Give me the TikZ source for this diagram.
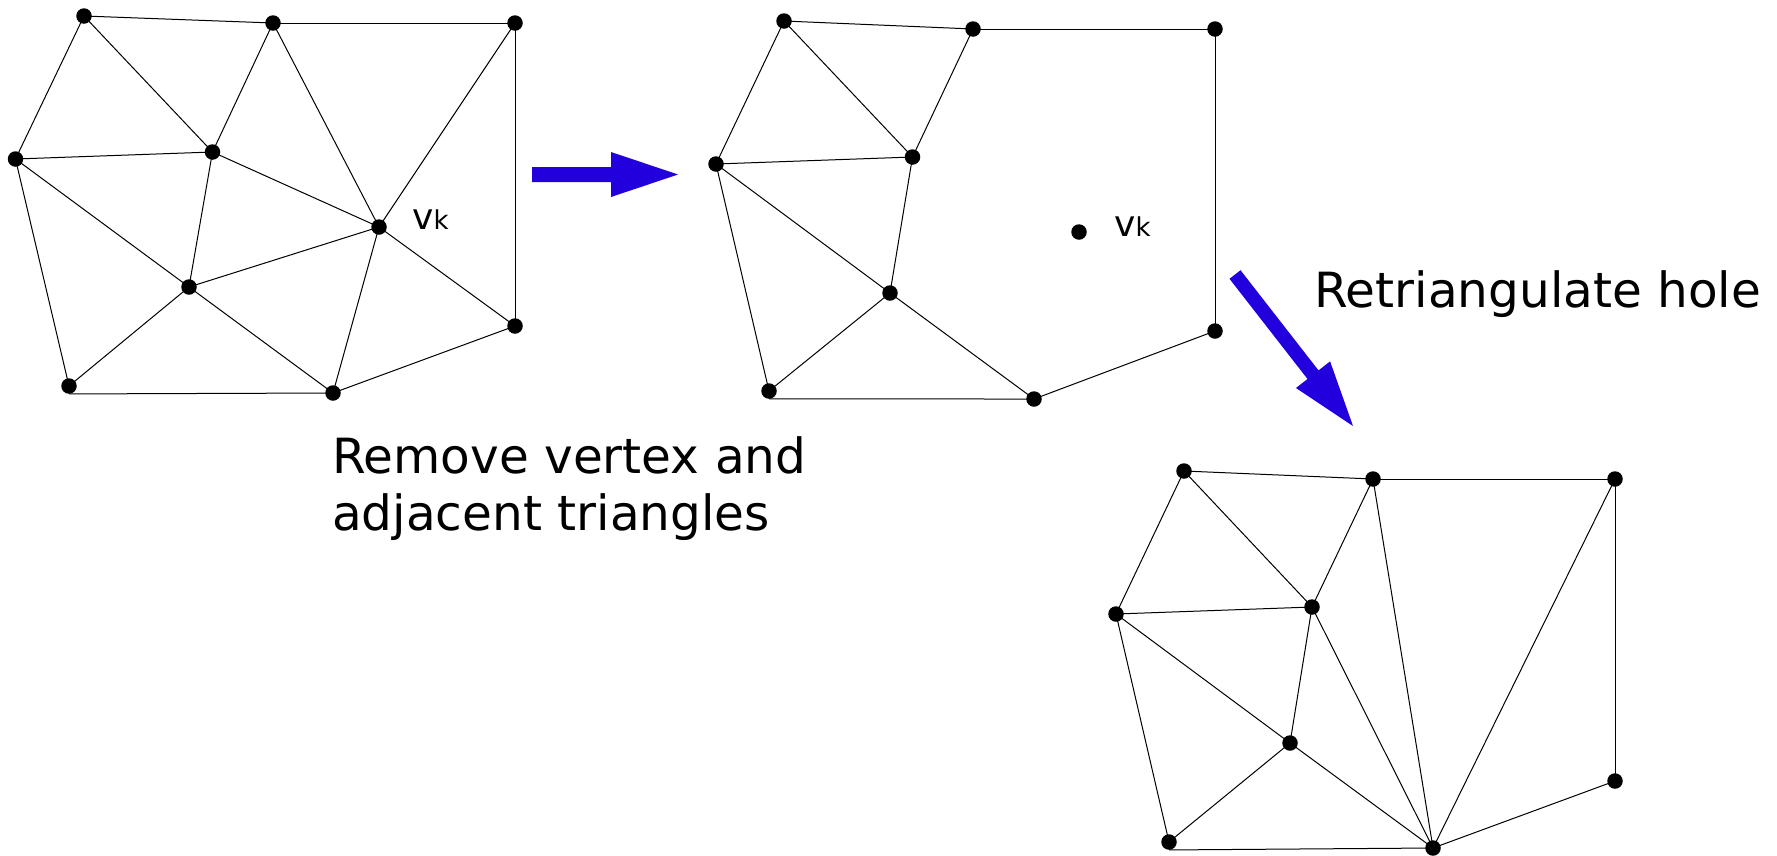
\documentclass[tikz,border=0pt]{standalone}
\usepackage{fontspec}
\setmainfont{DejaVu Sans}
\usetikzlibrary{shapes.geometric}
\definecolor{arrowblue}{RGB}{34,0,221}
\tikzset{
  dot/.style={circle,fill=black,inner sep=0pt,minimum size=15.5pt},
  edge/.style={draw=black,line width=1pt},
  bigtext/.style={inner sep=0pt,anchor=base west,font=\fontsize{48.5}{57}\selectfont},
  vklabel/.style={inner sep=0pt,anchor=base west},
  bluearrow/.style={fill=arrowblue}
}
\newcommand{\vklab}{{\fontsize{36}{40}\selectfont v}{\fontsize{26}{30}\selectfont k}}
\begin{document}
\begin{tikzpicture}[x=1pt,y=-1pt]
\useasboundingbox (0,0) rectangle (1777,855);
% ---------- graph 1 ----------
\node[dot] (a1) at (84,16) {};
\node[dot] (b1) at (273,23) {};
\node[dot] (c1) at (515,23) {};
\node[dot] (d1) at (15.5,159) {};
\node[dot] (e1) at (212.5,152) {};
\node[dot] (v1) at (379,227) {};
\node[dot] (f1) at (189,287) {};
\node[dot] (g1) at (69,386) {};
\node[dot] (h1) at (333,393) {};
\node[dot] (i1) at (515,326) {};
\foreach \p/\q in {a1/b1,b1/c1,a1/d1,a1/e1,b1/e1,b1/v1,c1/v1,c1/i1,d1/e1,d1/f1,d1/g1,e1/f1,e1/v1,f1/v1,f1/g1,f1/h1,v1/h1,v1/i1,h1/i1}
  \draw[edge] (\p.center) -- (\q.center);
\draw[edge] (g1.south) -- (h1.center);
\node[vklabel] (vk1) at (412,229) {\vklab};
% ---------- graph 2 ----------
\node[dot] (a2) at (784,21) {};
\node[dot] (b2) at (973,29) {};
\node[dot] (c2) at (1215,29) {};
\node[dot] (d2) at (716,164) {};
\node[dot] (e2) at (912.5,157) {};
\node[dot] (v2) at (1079,232) {};
\node[dot] (f2) at (890,293) {};
\node[dot] (g2) at (769,391) {};
\node[dot] (h2) at (1034,399) {};
\node[dot] (i2) at (1215,331) {};
\foreach \p/\q in {a2/b2,b2/c2,c2/i2,i2/h2,g2/d2,d2/a2,a2/e2,d2/e2,b2/e2,e2/f2,d2/f2,f2/g2,f2/h2}
  \draw[edge] (\p.center) -- (\q.center);
\draw[edge] (g2.south) -- (h2.center);
\node[vklabel] (vk2) at (1114,236) {\vklab};
% ---------- graph 3 ----------
\node[dot] (a3) at (1184,471) {};
\node[dot] (b3) at (1373,479) {};
\node[dot] (c3) at (1615,479) {};
\node[dot] (d3) at (1116,614) {};
\node[dot] (e3) at (1312,607) {};
\node[dot] (f3) at (1290,743) {};
\node[dot] (g3) at (1169,842) {};
\node[dot] (h3) at (1433,848) {};
\node[dot] (i3) at (1615,781) {};
\foreach \p/\q in {a3/b3,b3/c3,c3/i3,i3/h3,g3/d3,d3/a3,a3/e3,d3/e3,b3/e3,e3/f3,d3/f3,f3/g3,f3/h3,e3/h3,b3/h3,c3/h3}
  \draw[edge] (\p.center) -- (\q.center);
\draw[edge] (g3.south) -- (h3.center);
% ---------- arrows ----------
\fill[bluearrow] (532,167) -- (611,167) -- (611,152) -- (678,174.5) -- (611,197) -- (611,182) -- (532,182) -- cycle;
\fill[bluearrow] (1240.5,270.2) -- (1318.5,370.4) -- (1330.1,361.4) -- (1353,426) -- (1295.9,388.0) -- (1307.5,379.0) -- (1229.5,278.8) -- cycle;
% ---------- texts ----------
\node[bigtext] (rem1) at (332,473) {Remove vertex and};
\node[bigtext] (rem2) at (332,530) {adjacent triangles};
\node[bigtext] (retri) at (1314,307) {Retriangulate hole};
\end{tikzpicture}
\end{document}
